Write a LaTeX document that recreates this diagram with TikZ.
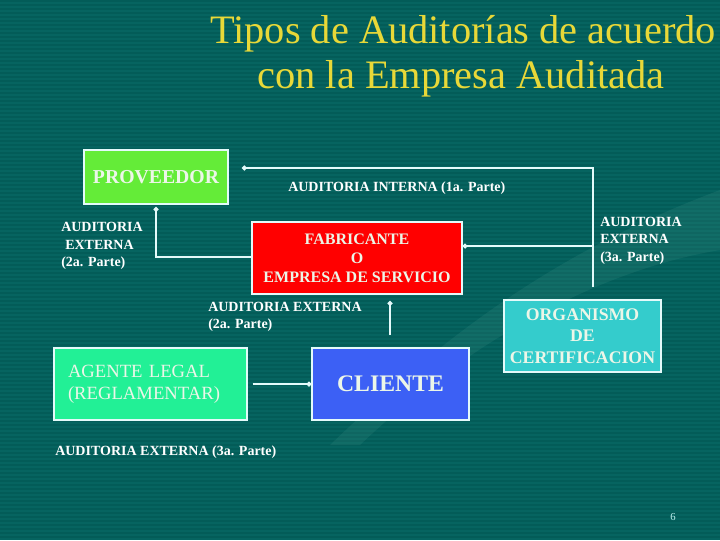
\documentclass[tikz,border=0pt]{standalone}
\usepackage{fontspec}
\setmainfont{Liberation Serif}
\usetikzlibrary{arrows.meta}
\definecolor{bgteal}{RGB}{6,100,96}
\definecolor{bgstripe}{RGB}{3,92,88}
\definecolor{swoosh}{RGB}{70,150,140}
\definecolor{titleyellow}{RGB}{232,216,56}
\definecolor{provgreen}{RGB}{100,236,56}
\definecolor{fabred}{RGB}{255,0,0}
\definecolor{agentgreen}{RGB}{34,240,150}
\definecolor{clientblue}{RGB}{60,96,245}
\definecolor{orgcyan}{RGB}{52,204,204}
\definecolor{boxtext}{RGB}{236,246,232}
\definecolor{linecol}{RGB}{228,250,250}
\definecolor{pagenum}{RGB}{190,240,240}
\tikzset{
  box/.style={draw=linecol, line width=1pt, inner sep=0pt, align=center, text=boxtext},
  lbl/.style={inner sep=0pt, text=white, font=\fontsize{10.5}{13.1}\bfseries\selectfont, align=left, anchor=west},
  conn/.style={draw=linecol, line width=1.5pt},
  dotend/.style={-{Circle[length=3.5pt,width=3.5pt]}},
  ttl/.style={inner sep=0pt, text=titleyellow, font=\fontsize{30.3}{34}\selectfont, anchor=base}
}
\begin{document}
\begin{tikzpicture}[x=0.75pt,y=-0.75pt]
\useasboundingbox (0,0) rectangle (720,540);
% background
\fill[bgteal] (0,0) rectangle (720,540);
\foreach \yy in {0,4,...,536} \fill[bgstripe] (0,\yy) rectangle (720,\yy+1.6);
\fill[swoosh, opacity=0.18] (330,445) .. controls (450,330) and (560,250) .. (720,190)
  -- (720,250) .. controls (600,270) and (470,340) .. (360,445) -- cycle;
% title
\node[ttl] (t1) at (463,43) {Tipos de Auditorías de acuerdo};
\node[ttl] (t2) at (461,88) {con la Empresa Auditada};
% boxes
\node[box, fill=provgreen, minimum width=108pt, minimum height=40.5pt,
      font=\fontsize{14.8}{17}\bfseries\selectfont] (prov) at (156,177) {PROVEEDOR};
\node[box, fill=fabred, minimum width=157.5pt, minimum height=54pt,
      font=\fontsize{12}{14.3}\bfseries\selectfont] (fab) at (357,258)
      {FABRICANTE\\O\\EMPRESA DE SERVICIO};
\node[box, fill=agentgreen, text width=123.75pt, inner xsep=10.5pt, minimum height=54pt, align=left,
      font=\fontsize{14}{16.5}\selectfont] (agent) at (150.5,384)
      {AGENTE LEGAL\\(REGLAMENTAR)};
\node[box, fill=clientblue, minimum width=117.75pt, minimum height=54pt,
      font=\fontsize{17.8}{20}\bfseries\selectfont] (cli) at (390.5,384) {CLIENTE};
\node[box, fill=orgcyan, minimum width=117.75pt, minimum height=54pt,
      font=\fontsize{13.3}{16}\bfseries\selectfont] (org) at (582.5,336)
      {ORGANISMO\\DE\\CERTIFICACION};
% connector coordinates
\coordinate (orgUp) at (593,287);
\coordinate (topLeft) at (242,168);
\coordinate (junc) at (593,246);
\coordinate (provDot) at (156,207);
\coordinate (cliUp) at (390,335);
\coordinate (fabDown) at (390,301);
% connectors
\draw[conn, dotend] (orgUp) |- (topLeft);
\draw[conn, dotend] (junc) -- (fab.east |- junc);
\draw[conn, dotend] (fab.west |- 0,257) -| (provDot);
\draw[conn, dotend] (cliUp) -- (fabDown);
\draw[conn, dotend, shorten <=3.75pt] (agent.east) -- (cli.west);
% labels
\node[lbl] (l1) at (288,188) {AUDITORIA INTERNA (1a. Parte)};
\node[lbl] (l2) at (61,246) {AUDITORIA\\\hspace*{3pt}EXTERNA\\(2a. Parte)};
\node[lbl] (l3) at (600,240.5) {AUDITORIA\\EXTERNA\\(3a. Parte)};
\node[lbl] (l4) at (208,317) {AUDITORIA EXTERNA\\(2a. Parte)};
\node[lbl] (l5) at (55,452) {AUDITORIA EXTERNA (3a. Parte)};
\node[inner sep=0pt, text=pagenum, font=\fontsize{8}{9}\selectfont] (pg) at (673,517) {6};
\end{tikzpicture}
\end{document}
